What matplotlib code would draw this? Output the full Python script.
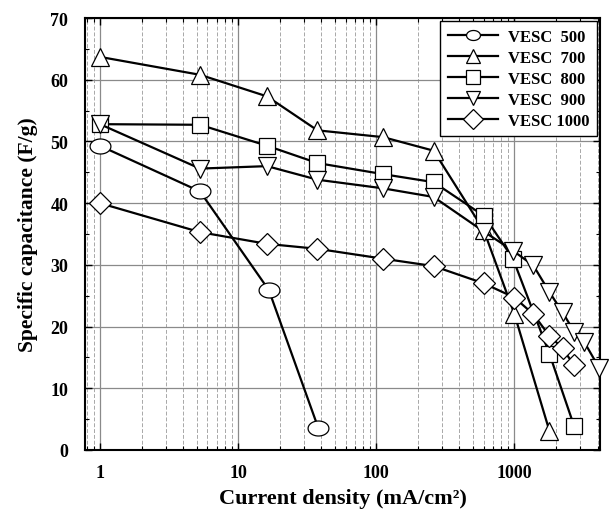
import matplotlib
matplotlib.use("Agg")
import matplotlib.pyplot as plt
import numpy as np
from matplotlib.path import Path
from matplotlib.ticker import LogLocator, FixedLocator, NullFormatter

plt.rcParams['font.family'] = ['Liberation Serif', 'DejaVu Serif']
plt.rcParams['font.weight'] = 'bold'

labels = ["VESC  500", "VESC  700", "VESC  800", "VESC  900", "VESC 1000"]

x500 = [1, 5.3, 16.7, 38]
y500 = [49.3, 41.9, 25.9, 3.6]

x700 = [1, 5.3, 16.2, 37.5, 112, 260, 600, 1000, 1790]
y700 = [63.7, 60.8, 57.3, 51.8, 50.7, 48.5, 35.6, 22.0, 3.1]

x800 = [1, 5.3, 16.2, 37.5, 112, 260, 605, 975, 1790, 2700]
y800 = [52.8, 52.7, 49.3, 46.5, 44.7, 43.4, 37.9, 31.0, 15.6, 3.9]

x900 = [1, 5.3, 16.2, 37.5, 112, 260, 600, 975, 1370, 1790, 2230, 2700, 3200, 4100]
y900 = [52.8, 45.6, 46.0, 43.8, 42.4, 41.0, 35.4, 32.3, 29.9, 25.6, 22.3, 19.2, 17.5, 13.3]

x1000 = [1, 5.3, 16.2, 37.5, 112, 260, 600, 1000, 1370, 1790, 2230, 2700]
y1000 = [40.0, 35.3, 33.4, 32.6, 31.0, 29.8, 27.0, 24.7, 22.0, 18.5, 16.5, 13.7]

xticks = [1, 10, 100, 1000]
xticklabels = ['1', '10', '100', '1000']

# wide ellipse marker
t = np.linspace(0, 2 * np.pi, 60)
ell = Path(np.column_stack([np.cos(t), 0.72 * np.sin(t)]), closed=True)

series = [
    (x500, y500, ell, 15),
    (x700, y700, '^', 13.5),
    (x800, y800, 's', 11.5),
    (x900, y900, 'v', 13.5),
    (x1000, y1000, 'D', 11),
]

fig = plt.figure(figsize=(6.09, 5.10), dpi=100)
ax = fig.add_axes([0.1396, 0.1157, 0.8454, 0.847])

for (xs, ys, m, ms), lab in zip(series, labels):
    ax.plot(xs, ys, color='black', linewidth=1.6, marker=m, markersize=ms,
            markerfacecolor='white', markeredgecolor='black', markeredgewidth=0.9,
            label=lab, zorder=3, clip_on=False)

ax.set_xscale('log')
ax.set_xlim(0.78, 4150)
ax.set_ylim(0, 70)
ax.yaxis.set_major_locator(FixedLocator(np.arange(0, 71, 10)))
ax.yaxis.set_minor_locator(FixedLocator(np.arange(5, 70, 10)))
ax.xaxis.set_major_locator(FixedLocator(xticks))
ax.xaxis.set_minor_locator(LogLocator(base=10, subs=np.arange(2, 10), numticks=20))
ax.xaxis.set_minor_formatter(NullFormatter())
ax.set_xticklabels(xticklabels)

ax.grid(True, which='major', color='#8a8a8a', linewidth=0.9, linestyle='-')
ax.grid(True, which='minor', axis='x', color='#a8a8a8', linewidth=0.7, linestyle=(0, (4, 2)))

ax.tick_params(which='both', direction='in', top=True, right=True)
ax.tick_params(which='major', length=5, width=1, labelsize=13)
ax.tick_params(axis='x', which='major', pad=10)
ax.tick_params(axis='y', which='major', pad=12)
ax.tick_params(which='minor', length=3, width=0.8)
for lbl in ax.get_xticklabels() + ax.get_yticklabels():
    lbl.set_fontweight('bold')
for s in ax.spines.values():
    s.set_linewidth(1.5)

ax.set_xlabel('Current density (mA/cm²)', fontsize=16, fontweight='bold', labelpad=5)
ax.set_ylabel('Specific capacitance (F/g)', fontsize=15.5, fontweight='bold', labelpad=9)

leg = ax.legend(loc='upper right', prop={'weight': 'bold', 'size': 12},
                frameon=True, fancybox=False, edgecolor='black', framealpha=1,
                handlelength=3.0, handletextpad=0.6, borderpad=0.45, labelspacing=0.3,
                borderaxespad=0.2)
leg.get_frame().set_linewidth(1.0)
leg.set_zorder(5)
for h in leg.legend_handles:
    h.set_markersize(10)

fig.savefig('out.png', dpi=100)
